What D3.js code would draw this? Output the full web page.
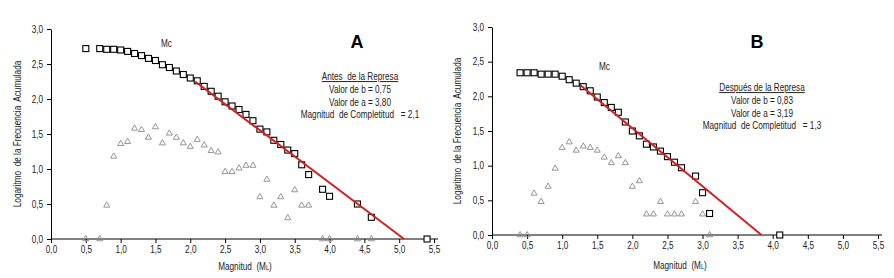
<!DOCTYPE html>
<html><head><meta charset="utf-8">
<script src="https://cdn.jsdelivr.net/npm/d3@7"></script>
<style>
body{margin:0;background:#fff;}
svg{display:block;}
.t{font-family:"Liberation Sans",Arial,sans-serif;}
</style></head>
<body><svg id="c" width="894" height="278"></svg>
<script>
// Panel A: Antes de la Represa
const magA = [0.5,0.7,0.8,0.9,1.0,1.1,1.2,1.3,1.4,1.5,1.6,1.7,1.8,1.9,2.0,2.1,2.2,2.3,2.4,2.5,2.6,2.7,2.8,2.9,3.0,3.1,3.2,3.3,3.4,3.5,3.6,3.7,3.9,4.0,4.4,4.6,5.4];
const cumA = [2.72,2.72,2.71,2.71,2.70,2.68,2.65,2.62,2.58,2.55,2.49,2.45,2.40,2.35,2.30,2.26,2.18,2.11,2.04,1.96,1.90,1.85,1.78,1.69,1.57,1.53,1.41,1.35,1.27,1.22,1.06,0.92,0.71,0.61,0.50,0.31,0.00];
const incMagA = [0.5,0.7,0.8,0.9,1.0,1.1,1.2,1.3,1.4,1.5,1.6,1.7,1.8,1.9,2.0,2.1,2.2,2.3,2.4,2.5,2.6,2.7,2.8,2.9,3.0,3.1,3.2,3.3,3.4,3.5,3.6,3.7,3.9,4.0,4.4,4.6];
const incA = [0,0,0.48,1.18,1.36,1.39,1.58,1.56,1.45,1.60,1.37,1.51,1.45,1.37,1.32,1.42,1.34,1.26,1.24,0.96,0.96,1.01,1.05,1.05,0.60,0.85,0.48,0.60,0.30,0.70,0.48,0.48,0,0,0,0];
const fitXA = [2.07, 5.07];
const fitYA = [2.25, 0.0];
const textA = ["Antes  de la Represa","Valor de b = 0,75","Valor de a = 3,80","Magnitud  de Completitud   = 2,1"];

// Panel B: Después de la Represa
const magB = [0.4,0.5,0.6,0.7,0.8,0.9,1.0,1.1,1.2,1.3,1.4,1.5,1.6,1.7,1.8,1.9,2.0,2.1,2.2,2.3,2.4,2.5,2.6,2.7,2.9,3.0,3.1,4.1];
const cumB = [2.34,2.34,2.34,2.32,2.32,2.32,2.29,2.24,2.19,2.14,2.08,1.99,1.91,1.84,1.77,1.63,1.50,1.43,1.31,1.27,1.21,1.13,1.05,0.97,0.85,0.61,0.31,0.00];
const incMagB = [0.4,0.5,0.6,0.7,0.8,0.9,1.0,1.1,1.2,1.3,1.4,1.5,1.6,1.7,1.8,1.9,2.0,2.1,2.2,2.3,2.4,2.5,2.6,2.7,2.9,3.0,3.1];
const incB = [0,0,0.60,0.48,0.70,0.96,1.26,1.34,1.22,1.28,1.26,1.22,1.12,1.04,1.14,1.04,0.70,0.78,0.30,0.30,0.48,0.30,0.30,0.30,0.48,0.30,0];
const fitXB = [1.26, 3.84];
const fitYB = [2.16, 0.0];
const textB = ["Después de la Represa","Valor de b = 0,83","Valor de a = 3,19","Magnitud  de Completitud   = 1,3"];

const xTicks = [0,0.5,1,1.5,2,2.5,3,3.5,4,4.5,5,5.5];
const yTicks = [0,0.5,1,1.5,2,2.5,3];
const fmt = v => v.toFixed(1).replace(".", ",");
const K = 0.82; // horizontal condensing to mimic a narrow face

const svg = d3.select("#c");

function panel(o){
  const g = svg.append("g");
  const x = d3.scaleLinear().domain([0,5.5]).range([o.x0,o.x1]);
  const y = d3.scaleLinear().domain([0,3]).range([o.y0,o.y1]);
  const ax = g.append("g").attr("transform",`translate(0,${o.y0})`)
    .call(d3.axisBottom(x).tickValues(xTicks).tickFormat(fmt).tickSize(4).tickSizeOuter(0).tickPadding(3));
  const ay = g.append("g").attr("transform",`translate(${o.x0},0)`)
    .call(d3.axisLeft(y).tickValues(yTicks).tickFormat(fmt).tickSize(4).tickSizeOuter(0).tickPadding(4));
  [ax,ay].forEach(a=>{
    a.selectAll("path,line").attr("stroke","#000").attr("stroke-width",1);
    a.selectAll("text").attr("class","t").attr("font-size",10).attr("fill","#222")
      .attr("x",function(){return (+d3.select(this).attr("x")||0)/K;})
      .attr("transform",`scale(${K},1)`);
  });
  ax.select(".domain").attr("d",`M${o.x0},0H${o.x1+4}`);
  // triangles
  const tri = d3.symbol().type(d3.symbolTriangle).size(16);
  g.selectAll(".tri").data(o.incX.map((v,i)=>[v,o.incY[i]])).enter().append("path")
    .attr("d",tri).attr("transform",d=>`translate(${x(d[0])},${y(d[1])})`)
    .attr("fill","none").attr("stroke","#8a8a8a").attr("stroke-width",0.9);
  // squares
  g.selectAll(".sq").data(o.cumX.map((v,i)=>[v,o.cumY[i]])).enter().append("rect")
    .attr("x",d=>x(d[0])-3).attr("y",d=>y(d[1])-3).attr("width",6).attr("height",6)
    .attr("fill","#fff").attr("stroke","#000").attr("stroke-width",1.1);
  // fit line
  g.append("path").datum(o.fitX.map((v,i)=>[v,o.fitY[i]]))
    .attr("d",d3.line().x(d=>x(d[0])).y(d=>y(d[1])))
    .attr("stroke","#d42020").attr("stroke-width",2).attr("fill","none");
  // labels
  g.append("text").attr("class","t").attr("x",o.mc[0]/K).attr("y",o.mc[1]).attr("transform",`scale(${K},1)`)
    .attr("font-size",10).attr("fill","#222").text("Mc");
  g.append("text").attr("x",o.letter[0]).attr("y",o.letter[1]).attr("font-family","Liberation Sans, Arial, sans-serif")
    .attr("font-weight","bold").attr("font-size",18).attr("text-anchor","middle").attr("fill","#000").text(o.letterText);
  o.text.forEach((s,i)=>{
    g.append("text").attr("class","t").attr("x",o.tx/K).attr("y",o.ty+i*12.8).attr("font-size",10)
      .attr("transform",`scale(${K},1)`)
      .attr("text-anchor","middle").attr("fill","#222")
      .style("white-space","pre")
      .attr("text-decoration", i===0?"underline":null).text(s);
  });
  // axis titles
  g.append("text").attr("class","t").attr("transform",`translate(${o.ytx},${(o.y0+o.y1)/2}) rotate(-90) scale(${K},1)`)
    .attr("text-anchor","middle").attr("font-size",10).attr("fill","#222").style("white-space","pre")
    .text("Logaritmo  de la Frecuencia  Acumulada");
  const xt = g.append("text").attr("class","t").attr("transform",`translate(${o.xtx},${o.xty}) scale(${K},1)`)
    .attr("text-anchor","middle")
    .attr("font-size",10).attr("fill","#222").style("white-space","pre");
  xt.append("tspan").text("Magnitud  (M");
  xt.append("tspan").attr("font-size",7).text("L");
  xt.append("tspan").text(")");
}

panel({x0:51,x1:434,y0:239,y1:29,incX:incMagA,incY:incA,cumX:magA,cumY:cumA,fitX:fitXA,fitY:fitYA,
  mc:[161,47],letter:[357,48],letterText:"A",text:textA,tx:360,ty:80,ytx:21,xtx:245,xty:270});
panel({x0:492,x1:878,y0:235,y1:27,incX:incMagB,incY:incB,cumX:magB,cumY:cumB,fitX:fitXB,fitY:fitYB,
  mc:[599,70],letter:[757,48],letterText:"B",text:textB,tx:762,ty:91,ytx:461,xtx:680,xty:269});
</script></body></html>
